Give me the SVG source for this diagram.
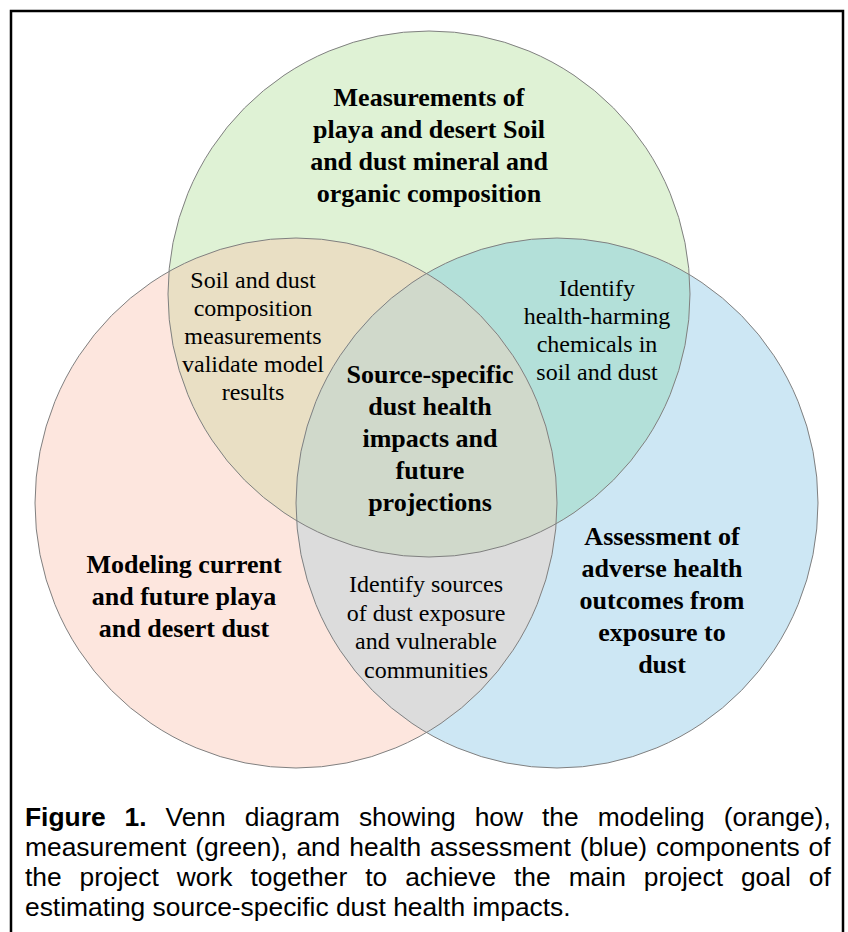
<svg xmlns="http://www.w3.org/2000/svg" width="848" height="932" viewBox="0 0 848 932">
<style>
.outline{fill:none;stroke:#808080;stroke-width:1}
.bold{font-family:"Liberation Serif","Times New Roman",serif;font-weight:bold;font-size:26px;fill:#000;text-anchor:middle}
.reg{font-family:"Liberation Serif","Times New Roman",serif;font-size:24px;fill:#000;text-anchor:middle}
.cap{font-family:"Liberation Sans",Arial,sans-serif;font-size:26.4px;fill:#000}
</style>
<defs>
<ellipse id="eG" cx="429" cy="294" rx="261" ry="263"/>
<ellipse id="eO" cx="296" cy="503" rx="261" ry="265"/>
<ellipse id="eB" cx="557" cy="503" rx="261" ry="265"/>
<clipPath id="clipO"><use href="#eO"/></clipPath>
<clipPath id="clipB"><use href="#eB"/></clipPath>
</defs>
<rect x="0" y="0" width="848" height="932" fill="#fff"/>
<rect x="11" y="11" width="832" height="940" fill="none" stroke="#000" stroke-width="2.5"/>

<g id="fills">
<use href="#eO" fill="#fde6de"/>
<use href="#eB" fill="#cde7f4"/>
<use href="#eG" fill="#dff2d5"/>
<use href="#eG" fill="#e9dfc4" clip-path="url(#clipO)"/>
<use href="#eG" fill="#b3e0d9" clip-path="url(#clipB)"/>
<use href="#eO" fill="#dcdcdc" clip-path="url(#clipB)"/>
<g clip-path="url(#clipB)"><use href="#eG" fill="#d0d9cb" clip-path="url(#clipO)"/></g>
</g>

<g id="node-measurement">
<use href="#eG" class="outline"/>
<text class="bold"><tspan x="429" y="106">Measurements of</tspan><tspan x="429" y="138">playa and desert Soil</tspan><tspan x="429" y="170">and dust mineral and</tspan><tspan x="429" y="202">organic composition</tspan></text>
</g>
<g id="node-modeling">
<use href="#eO" class="outline"/>
<text class="bold"><tspan x="184" y="573">Modeling current</tspan><tspan x="184" y="605">and future playa</tspan><tspan x="184" y="637">and desert dust</tspan></text>
</g>
<g id="node-health">
<use href="#eB" class="outline"/>
<text class="bold"><tspan x="662" y="545">Assessment of</tspan><tspan x="662" y="577">adverse health</tspan><tspan x="662" y="609">outcomes from</tspan><tspan x="662" y="641">exposure to</tspan><tspan x="662" y="673">dust</tspan></text>
</g>
<g id="node-measure-model">
<text class="reg"><tspan x="253" y="288">Soil and dust</tspan><tspan x="253" y="316">composition</tspan><tspan x="253" y="344">measurements</tspan><tspan x="253" y="372">validate model</tspan><tspan x="253" y="400">results</tspan></text>
</g>
<g id="node-measure-health">
<text class="reg"><tspan x="597" y="296">Identify</tspan><tspan x="597" y="324">health-harming</tspan><tspan x="597" y="352">chemicals in</tspan><tspan x="597" y="380">soil and dust</tspan></text>
</g>
<g id="node-model-health">
<text class="reg"><tspan x="426" y="592">Identify sources</tspan><tspan x="426" y="620.5">of dust exposure</tspan><tspan x="426" y="649">and vulnerable</tspan><tspan x="426" y="677.5">communities</tspan></text>
</g>
<g id="node-center">
<text class="bold"><tspan x="430" y="383">Source-specific</tspan><tspan x="430" y="415">dust health</tspan><tspan x="430" y="447">impacts and</tspan><tspan x="430" y="479">future</tspan><tspan x="430" y="511">projections</tspan></text>
</g>

<g id="caption">
<text class="cap" x="25" y="826" style="word-spacing:11.6px"><tspan font-weight="bold">Figure 1.</tspan> Venn diagram showing how the modeling (orange),</text>
<text class="cap" x="25" y="856" style="word-spacing:1.5px">measurement (green), and health assessment (blue) components of</text>
<text class="cap" x="25" y="886" style="word-spacing:10.6px">the project work together to achieve the main project goal of</text>
<text class="cap" x="25" y="916">estimating source-specific dust health impacts.</text>
</g>
</svg>
